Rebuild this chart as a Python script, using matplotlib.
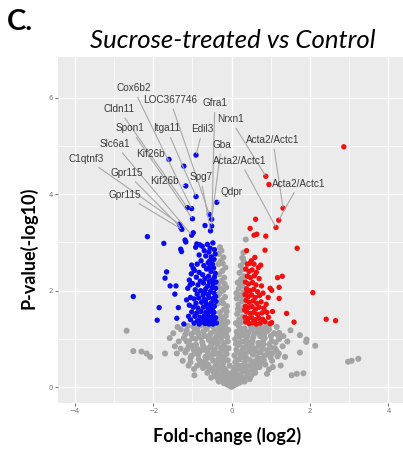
import matplotlib
matplotlib.use("Agg")
import matplotlib.pyplot as plt

# grey = not significant
grey_x = [0.00, -0.05, 0.06, -0.12, 0.13, -0.20, 0.21, -0.08, 0.09, -0.27, 0.28, -0.16, 0.17, -0.02, 0.03,
          -0.52, -0.43, -0.35, -0.30, -0.24, -0.18, -0.11, -0.06, 0.05, 0.10, 0.16, 0.23, 0.29, 0.35, 0.41, 0.50,
          -0.47, 0.46, -0.38, 0.37, -0.26, 0.27, -0.03, 0.04,
          -0.88, -0.80, -0.73, -0.66, -0.60, -0.53, -0.47, -0.41, -0.34, -0.28, -0.22, -0.16, -0.10, -0.05,
          0.05, 0.09, 0.15, 0.21, 0.27, 0.33, 0.39, 0.45, 0.52, 0.58, 0.64, 0.71, 0.78, 0.86,
          -0.70, -0.57, -0.37, -0.19, 0.18, 0.36, 0.61, 0.74, 0.95, -0.96,
          -1.18, -1.10, -1.03, -0.97, -0.91, -0.85, -0.79, -0.73, -0.67, -0.61, -0.55, -0.49, -0.43, -0.37,
          -0.31, -0.25, -0.19, -0.13, -0.08, 0.07, 0.12, 0.18, 0.24, 0.30, 0.36, 0.42, 0.48, 0.54, 0.60,
          0.66, 0.72, 0.78, 0.84, 0.90, 0.96, 1.03, 1.10, 1.17, -1.05, -0.88, -0.58, -0.40, -0.22, 0.22,
          0.39, 0.57, 0.81, 0.99, -0.70, 0.69,
          -1.22, -1.15, -1.09, -1.03, -0.97, -0.92, -0.86, -0.80, -0.75, -0.69, -0.64, -0.58, -0.53, -0.48,
          -0.42, -0.37, -0.32, -0.27, -0.22, -0.17, -0.12, -0.09, 0.09, 0.13, 0.18, 0.23, 0.28, 0.33, 0.38,
          0.43, 0.48, 0.53, 0.58, 0.63, 0.68, 0.73, 0.78, 0.84, 0.90, 0.96, 1.02, 1.08, 1.15, 1.21,
          -1.12, -0.88, -0.62, -0.44, -0.20, 0.20, 0.45, 0.66, 0.87, 1.12, -0.55, 0.56, -0.35, 0.31,
          -0.33, -0.24, -0.15, -0.30, -0.20, -0.12, -0.34, -0.26, -0.17, -0.31, -0.22, -0.14, -0.35, -0.27,
          -0.19, -0.32, -0.24, -0.16, -0.34, -0.27, -0.21, -0.33, -0.26, -0.30, -0.11, -0.28, -0.19, -0.13,
          -0.22, -0.29, -0.18, -0.23, -0.29, -0.36,
          0.11, 0.19, 0.28, 0.14, 0.23, 0.31, 0.17, 0.26, 0.13, 0.21, 0.30, 0.18, 0.27, 0.15, 0.24, 0.32,
          0.20, 0.28, 0.23, 0.31, 0.27, 0.29, 0.36, 0.25, 0.16, 0.29, 0.22, 0.12, 0.33, 0.30,
          -2.68, -2.51, -2.30, -2.17, -2.08, -1.70, -1.49, -1.40, 2.97, 3.06, 3.23, 1.53, 1.66, 1.83, 1.74,
          1.91, 1.90, 2.13, 1.74, 1.36, 1.21, 1.32, -1.35, -1.30, -1.45, -1.25, -1.38, 1.30, 1.42, 1.25,
          -1.58, 1.50, -1.10, 1.05, -0.95, 0.90,
          -0.14, 0.13, -0.33, 0.33, -0.40, 0.42, -0.62, 0.60, -0.20, 0.24, -0.45, 0.48, -0.76, 0.70,
          -0.64, 0.55, -0.26, 0.12, -0.84, 0.82,
          -0.95, 0.93, -0.82, 0.75, -0.64, 0.63, -0.46, 0.45, -0.28, 0.27, -0.15, 0.15, -0.34, 0.33,
          -0.52, 0.51, -1.00, 1.00, -1.14, 1.14,
          -1.18, 1.18, -1.00, 1.00, -0.84, 0.82, -0.72, 0.70, -0.56, 0.55, -0.40, 0.40, -0.25, 0.25,
          -0.14, 0.14, -0.30, 0.35, -0.66, 0.72, -0.95, 0.95, -0.78, 0.80, -0.50, 0.50, -0.18, 0.22,
          -0.10, 0.11, -1.05, 1.03, -1.15, 1.25, -1.30, 1.20]
grey_y = [0.01, 0.03, 0.04, 0.06, 0.07, 0.09, 0.10, 0.11, 0.12, 0.13, 0.14, 0.14, 0.15, 0.08, 0.13,
          0.20, 0.28, 0.18, 0.25, 0.32, 0.22, 0.30, 0.19, 0.21, 0.29, 0.18, 0.26, 0.33, 0.21, 0.30, 0.24,
          0.33, 0.17, 0.34, 0.34, 0.17, 0.19, 0.26, 0.33,
          0.45, 0.53, 0.40, 0.58, 0.47, 0.38, 0.55, 0.44, 0.59, 0.41, 0.50, 0.37, 0.56, 0.45,
          0.40, 0.52, 0.46, 0.58, 0.39, 0.50, 0.43, 0.57, 0.36, 0.48, 0.55, 0.42, 0.51, 0.47,
          0.52, 0.41, 0.49, 0.58, 0.38, 0.59, 0.39, 0.59, 0.37, 0.38,
          0.72, 0.84, 0.65, 0.78, 0.88, 0.68, 0.76, 0.86, 0.63, 0.73, 0.83, 0.67, 0.79, 0.89,
          0.65, 0.75, 0.85, 0.69, 0.81, 0.66, 0.78, 0.88, 0.70, 0.82, 0.62, 0.74, 0.86, 0.68, 0.80,
          0.61, 0.72, 0.84, 0.66, 0.77, 0.89, 0.70, 0.81, 0.64, 0.61, 0.80, 0.62, 0.70, 0.63, 0.61,
          0.87, 0.74, 0.89, 0.62, 0.78, 0.86,
          1.02, 1.18, 0.95, 1.10, 1.25, 1.00, 1.14, 1.28, 0.93, 1.07, 1.21, 0.98, 1.12, 1.26,
          0.96, 1.09, 1.23, 1.01, 1.16, 1.29, 1.04, 1.19, 1.00, 1.15, 1.27, 0.94, 1.08, 1.22, 0.99,
          1.13, 1.28, 0.97, 1.11, 1.24, 0.92, 1.06, 1.20, 1.02, 1.16, 1.29, 0.96, 1.12, 1.25, 1.00,
          1.27, 1.22, 1.05, 1.17, 0.92, 1.05, 0.91, 1.17, 1.25, 0.93, 1.29, 1.26, 0.92, 0.95,
          1.36, 1.42, 1.48, 1.55, 1.61, 1.68, 1.74, 1.80, 1.87, 1.94, 2.00, 2.07, 2.13, 2.20,
          2.27, 2.34, 2.41, 2.48, 2.55, 2.62, 2.69, 2.76, 2.83, 2.90, 1.35, 1.31, 1.38, 1.57,
          1.74, 2.05, 2.14, 2.57, 1.47, 1.90,
          1.33, 1.40, 1.46, 1.52, 1.59, 1.65, 1.71, 1.78, 1.84, 1.91, 1.97, 2.04, 2.10, 2.17, 2.24, 2.30,
          2.37, 2.44, 2.52, 2.60, 2.68, 2.67, 3.06, 1.35, 1.62, 1.86, 2.13, 1.95, 1.42, 2.79,
          1.17, 0.75, 0.74, 0.70, 0.63, 0.70, 1.12, 0.70, 0.53, 0.55, 0.59, 0.25, 0.28, 0.29, 1.08,
          0.99, 0.94, 0.86, 0.72, 0.63, 1.13, 1.06, 0.95, 1.20, 0.85, 0.55, 1.25, 0.85, 0.95, 0.45,
          1.02, 1.18, 0.45, 0.42, 0.25, 0.28,
          0.20, 0.24, 0.12, 0.12, 0.22, 0.22, 0.30, 0.30, 0.40, 0.44, 0.40, 0.46, 0.47, 0.50,
          0.43, 0.53, 0.55, 0.57, 0.58, 0.56,
          0.70, 0.70, 0.74, 0.76, 0.80, 0.72, 0.73, 0.80, 0.82, 0.76, 0.77, 0.72, 0.70, 0.69,
          0.89, 0.89, 0.86, 0.82, 0.78, 0.76,
          1.10, 1.08, 1.02, 1.06, 1.08, 1.10, 1.16, 1.12, 1.05, 1.04, 1.03, 1.06, 1.08, 1.14,
          1.12, 1.07, 1.18, 1.16, 1.26, 1.27, 1.15, 1.20, 1.02, 0.96, 0.97, 1.20, 1.24, 1.22,
          0.95, 0.90, 0.52, 0.55, 0.95, 1.05, 0.80, 0.70]

# blue = significantly down
blue_x = [-0.91, -1.22, -1.17, -0.91, -1.13, -1.02, -1.00, -0.57, -0.38, -0.51, -0.68, -0.51, -0.54,
          -1.33, -1.30, -1.27, -1.02, -1.19, -1.60,
          -2.15, -1.73, -1.17, -1.30, -1.28, -0.98, -1.66, -1.70, -1.57, -1.42, -1.45, -2.51, -1.85,
          -1.36, -1.90, -1.40, -1.22, -1.15, -1.08, -1.06, -1.02, -0.98, -0.89, -0.81, -0.83,
          -0.75, -0.62, -0.55, -0.48, -0.70, -0.58, -0.44, -0.92,
          -0.66, -0.52, -0.45, -0.78, -0.60, -0.88, -0.49, -0.71, -0.42, -0.56,
          -0.95, -0.83, -0.64, -0.53, -0.46, -0.74, -0.59, -0.42, -0.90, -0.68, -0.50, -0.80, -0.57, -0.44,
          -1.00, -0.86, -0.72, -0.61, -0.48, -0.41, -0.93, -0.79, -0.66, -0.54, -0.45, -0.88, -0.73, -0.60,
          -0.50, -0.40, -0.69, -0.57,
          -1.05, -0.96, -0.84, -0.70, -0.58, -0.47, -0.40, -0.91, -0.77, -0.64, -0.52, -0.44, -0.98, -0.86,
          -0.72, -0.60, -0.49, -0.41, -0.67, -0.55,
          -1.02, -0.89, -0.78, -0.66, -0.55, -0.45, -0.94, -0.81, -0.70, -0.59, -0.49, -0.41, -0.87, -0.75,
          -0.63, -0.53, -0.44, -0.96, -0.68, -0.58, -0.48, -0.39, -0.83, -0.73, -0.51, -0.62,
          -1.10, -1.12, -1.08, -1.03, -1.05]
blue_y = [4.81, 4.58, 4.17, 3.95, 3.72, 3.70, 3.49, 3.58, 3.83, 3.48, 3.35, 3.34, 3.24,
          3.38, 3.31, 3.27, 3.15, 3.05, 4.72,
          3.12, 2.98, 3.01, 2.86, 2.81, 3.20, 2.39, 2.26, 2.10, 2.10, 1.93, 1.88, 1.65,
          1.65, 1.39, 1.43, 1.31, 1.81, 2.22, 2.12, 2.53, 2.46, 2.97, 2.95, 2.74,
          2.92, 2.96, 2.88, 2.99, 2.83, 2.80, 2.85, 2.90,
          2.72, 2.70, 2.65, 2.62, 2.58, 2.55, 2.55, 2.52, 2.76, 2.62,
          2.42, 2.38, 2.45, 2.40, 2.47, 2.33, 2.30, 2.36, 2.28, 2.25, 2.22, 2.20, 2.48, 2.28,
          2.15, 2.12, 2.16, 2.10, 2.14, 2.05, 2.02, 2.00, 2.04, 1.98, 1.95, 1.93, 1.91, 1.92,
          2.06, 2.18, 1.97, 2.19,
          1.86, 1.83, 1.85, 1.82, 1.86, 1.84, 1.78, 1.74, 1.76, 1.72, 1.75, 1.68, 1.66, 1.64,
          1.66, 1.62, 1.63, 1.88, 1.79, 1.69,
          1.56, 1.54, 1.57, 1.55, 1.57, 1.55, 1.47, 1.45, 1.48, 1.46, 1.47, 1.44, 1.38, 1.36,
          1.39, 1.37, 1.35, 1.33, 1.32, 1.31, 1.31, 1.33, 1.31, 1.42, 1.42, 1.51,
          1.47, 2.05, 1.70, 2.35, 1.40]

# red = significantly up
red_x = [2.86, 0.87, 0.95, 1.31, 1.20, 1.13, 0.61, 0.47, 0.57, 0.64, 0.87, 0.38, 0.85, 1.67, 0.59,
         0.47, 0.57, 0.74, 1.29, 1.17, 2.07, 0.98, 1.02, 1.21, 1.21, 1.40, 1.59, 2.41, 2.65, 1.02,
         0.85, 1.04, 0.93,
         0.36, 0.44, 0.52, 0.63, 0.40, 0.48, 0.58, 0.70, 0.35, 0.43, 0.53, 0.62, 0.76, 0.38, 0.47, 0.56,
         0.66, 0.34, 0.42, 0.51, 0.60, 0.71, 0.80, 0.37, 0.45, 0.55, 0.64, 0.75, 0.35, 0.43, 0.52, 0.61,
         0.70, 0.82, 0.38, 0.47, 0.56, 0.66, 0.77, 0.90, 0.34, 0.42, 0.51, 0.60, 0.69, 0.79, 0.94, 0.36,
         0.45, 0.54, 0.63, 0.73, 0.85, 0.98, 0.40, 0.68, 0.33, 0.88, 0.50, 0.39]
red_y = [4.98, 4.37, 4.20, 3.71, 3.46, 3.31, 3.48, 3.29, 3.15, 3.17, 3.13, 2.83, 2.84, 2.88, 2.69,
         2.57, 2.55, 2.53, 2.30, 2.27, 1.96, 2.05, 2.01, 2.07, 1.84, 1.53, 1.35, 1.41, 1.38, 1.34,
         1.57, 1.57, 1.86,
         2.45, 2.40, 2.43, 2.38, 2.30, 2.27, 2.31, 2.25, 2.18, 2.14, 2.17, 2.12, 2.10, 2.04, 2.00, 2.03,
         1.98, 1.92, 1.88, 1.91, 1.86, 1.90, 1.95, 1.80, 1.76, 1.79, 1.74, 1.77, 1.68, 1.65, 1.67, 1.62,
         1.66, 1.64, 1.56, 1.53, 1.55, 1.51, 1.54, 1.55, 1.45, 1.42, 1.44, 1.40, 1.43, 1.41, 1.45, 1.35,
         1.32, 1.34, 1.31, 1.33, 1.36, 1.32, 2.55, 2.48, 1.60, 1.72, 2.62, 1.98]

# gene labels: text, label position, point position
genes = ["Cox6b2", "LOC367746", "Gfra1", "Cldn11", "Nrxn1", "Spon1", "Itga11", "Edil3",
         "Acta2/Actc1", "Slc6a1", "Gba", "Kif26b", "C1qtnf3", "Acta2/Actc1", "Gpr115",
         "Kif26b", "Spg7", "Acta2/Actc1", "Qdpr", "Gpr115"]
lab_x = [-2.51, -1.57, -0.43, -2.88, -0.03, -2.59, -1.66, -0.74, 1.05, -2.98, -0.26, -2.08,
         -3.70, 0.21, -2.68, -1.72, -0.79, 1.72, 0.00, -2.72]
lab_y = [6.19, 5.95, 5.88, 5.76, 5.55, 5.36, 5.36, 5.34, 5.12, 5.04, 5.02, 4.83, 4.73, 4.69,
         4.44, 4.28, 4.35, 4.22, 4.04, 3.98]
pt_x = [-1.02, -0.57, -0.51, -1.13, 0.87, -1.00, -0.91, -0.91, 1.31, -1.02, -0.51, -1.60,
        -1.33, 1.13, -1.30, -1.17, -0.54, 1.20, -0.38, -1.27]
pt_y = [3.70, 3.58, 3.34, 3.72, 4.37, 3.49, 3.95, 4.81, 3.71, 3.15, 3.48, 4.72, 3.38, 3.31,
        3.31, 4.17, 3.24, 3.46, 3.83, 3.27]

fig = plt.figure(figsize=(4.03, 4.49), dpi=100)
ax = fig.add_axes([58/403, 46/449, 345/403, 346/449])
ax.set_facecolor('#ebebeb')
for s in ax.spines.values():
    s.set_visible(False)

ax.scatter(grey_x, grey_y, s=19, c='#a3a3a3', edgecolors='none', zorder=2)
ax.scatter(blue_x, blue_y, s=15, c='#0a0af0', edgecolors='none', zorder=3)
ax.scatter(red_x, red_y, s=15, c='#f01010', edgecolors='none', zorder=3)

for g, lx, ly, px, py in zip(genes, lab_x, lab_y, pt_x, pt_y):
    ax.annotate(g, xy=(px, py), xytext=(lx, ly), ha='center', va='center',
                fontsize=7.2, color='#3a3a3a', family='Liberation Sans',
                arrowprops=dict(arrowstyle='-', color='#a8a8a8', lw=0.8, shrinkA=1, shrinkB=1),
                zorder=4)

ax.set_xlim(-4.43, 4.37)
ax.set_ylim(-0.325, 6.84)
ax.set_xticks([-4, -2, 0, 2, 4])
ax.set_yticks([0, 2, 4, 6])
ax.set_xticks([-3, -1, 1, 3], minor=True)
ax.set_yticks([1, 3, 5], minor=True)
ax.grid(True, which='major', color='white', lw=1.0, zorder=0)
ax.grid(True, which='minor', color='white', lw=0.5, zorder=0)
ax.set_axisbelow(True)
ax.tick_params(which='major', length=2.2, width=0.6, color='#555555', labelsize=5, labelcolor='#777777', pad=1.5)
ax.tick_params(which='minor', length=0)

fig.text(7/403, 1 - 22/449, 'C.', fontsize=21, fontweight='bold', family='Lato', ha='left', va='center')
fig.text(233/403, 1 - 40/449, 'Sucrose-treated vs Control', fontsize=18.5, style='italic',
         family='Lato', ha='center', va='center')
fig.text(227/403, 1 - 436/449, 'Fold-change (log2)', fontsize=13, fontweight='bold',
         family='Lato', ha='center', va='center')
fig.text(28/403, 1 - 248/449, 'P-value(-log10)', fontsize=13, fontweight='bold',
         family='Lato', ha='center', va='center', rotation=90)

fig.savefig('out.png', dpi=100)
